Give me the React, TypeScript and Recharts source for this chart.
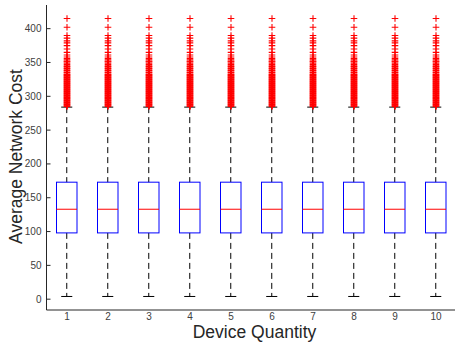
import React from "react";
import { ComposedChart, Bar, Scatter, XAxis, YAxis } from "recharts";

// box statistics, one entry per device quantity
const categories = ["1", "2", "3", "4", "5", "6", "7", "8", "9", "10"];
const lowerWhisker = [4, 4, 4, 4, 4, 4, 4, 4, 4, 4];
const q1 = [98, 98, 98, 98, 98, 98, 98, 98, 98, 98];
const medians = [133, 133, 133, 133, 133, 133, 133, 133, 133, 133];
const q3 = [173, 173, 173, 173, 173, 173, 173, 173, 173, 173];
const upperWhisker = [284, 284, 284, 284, 284, 284, 284, 284, 284, 284];

// outliers (same spread above every box)
const outlierValues = [
  415, 402, 390, 386, 382, 379, 375, 370, 365, 361, 358, 356, 354, 352, 351,
  349, 347, 345, 344, 342, 341, 339, 338, 336, 335, 333, 332, 331, 330, 329,
  328, 327, 326, 325, 324, 323, 322, 321, 320, 319, 318, 317, 316, 315, 314,
  313, 312, 311, 310, 309, 308, 307, 306, 305, 304, 303, 302, 301, 300, 299,
  298, 297, 296, 295, 294, 293, 292, 291, 290, 289, 288, 287, 286, 285,
];

const yTicks = [0, 50, 100, 150, 200, 250, 300, 350, 400];

const chartData = categories.map((cat, i) => {
  const row: Record<string, any> = {
    cat,
    lo: lowerWhisker[i],
    q1: q1[i],
    med: medians[i],
    q3: q3[i],
    hi: upperWhisker[i],
  };
  outlierValues.forEach((v, j) => {
    row[`o${j}`] = v;
  });
  return row;
});

const axisColor = "#262626";

const BoxShape = (props: any) => {
  const { x, y, width, height, payload } = props;
  if (height == null || !payload) return null;
  const { lo, q1, med, q3, hi } = payload;
  const k = height / (hi - lo);
  const toY = (v: number) => y + (hi - v) * k;
  const cx = x + width / 2;
  const cap = width * 0.27;
  return (
    <g>
      <line x1={cx} x2={cx} y1={toY(hi)} y2={toY(q3)} stroke="#000" strokeDasharray="6 4" />
      <line x1={cx} x2={cx} y1={toY(q1)} y2={toY(lo)} stroke="#000" strokeDasharray="6 4" />
      <line x1={cx - cap} x2={cx + cap} y1={toY(hi)} y2={toY(hi)} stroke="#000" />
      <line x1={cx - cap} x2={cx + cap} y1={toY(lo)} y2={toY(lo)} stroke="#000" />
      <rect
        x={x}
        y={toY(q3)}
        width={width}
        height={(q3 - q1) * k}
        fill="none"
        stroke="#0000FF"
      />
      <line x1={x} x2={x + width} y1={toY(med)} y2={toY(med)} stroke="#FF0000" />
    </g>
  );
};

const PlusShape = (props: any) => {
  const { cx, cy } = props;
  if (cx == null || cy == null) return null;
  return (
    <path
      d={`M${cx - 3.3},${cy}h6.6M${cx},${cy - 3.3}v6.6`}
      stroke="#FF0000"
      strokeWidth={1.1}
      fill="none"
    />
  );
};

const YLabel = (props: any) => {
  const { viewBox } = props;
  const cy = viewBox.y + viewBox.height / 2 - 1;
  return (
    <text
      x={21.5}
      y={cy}
      transform={`rotate(-90, 21.5, ${cy})`}
      textAnchor="middle"
      fontSize={17.5}
      fill={axisColor}
      fontFamily="Liberation Sans, Arial, sans-serif"
    >
      Average Network Cost
    </text>
  );
};

const XLabel = (props: any) => {
  const { viewBox } = props;
  return (
    <text
      x={viewBox.x + viewBox.width / 2 + 3}
      y={338}
      textAnchor="middle"
      fontSize={17.5}
      fill={axisColor}
      fontFamily="Liberation Sans, Arial, sans-serif"
    >
      Device Quantity
    </text>
  );
};

const tickStyle = {
  fontSize: 10,
  fill: "#404040",
  fontFamily: "Liberation Sans, Arial, sans-serif",
};

export default function App() {
  return (
    <div
      style={{
        position: "absolute",
        left: 0,
        top: 0,
        width: 455,
        height: 347,
        overflow: "hidden",
        background: "#fff",
      }}
    >
      <ComposedChart
        width={460}
        height={347}
        data={chartData}
        margin={{ top: 5, right: 3.5, left: 0.5, bottom: 0 }}
      >
        <XAxis
          dataKey="cat"
          height={37}
          tickLine={false}
          tickSize={0}
          tickMargin={3}
          tick={tickStyle}
          axisLine={{ stroke: axisColor }}
          interval={0}
          label={<XLabel />}
        />
        <XAxis
          xAxisId="top"
          dataKey="cat"
          orientation="top"
          height={0}
          tick={false}
          tickLine={false}
          axisLine={{ stroke: "#555" }}
        />
        <YAxis
          type="number"
          domain={[-16, 435]}
          ticks={yTicks}
          allowDataOverflow
          width={46}
          tickSize={-4}
          tickMargin={9}
          tick={tickStyle}
          tickLine={{ stroke: axisColor }}
          axisLine={{ stroke: axisColor }}
          label={<YLabel />}
        />
        <YAxis
          yAxisId="r"
          orientation="right"
          type="number"
          domain={[-16, 435]}
          ticks={yTicks}
          allowDataOverflow
          width={0}
          tickSize={-4}
          tick={false}
          tickLine={{ stroke: "#777" }}
          axisLine={{ stroke: "#555" }}
        />
        <Bar
          dataKey={(d: any) => [d.lo, d.hi]}
          barSize={20.5}
          shape={<BoxShape />}
          isAnimationActive={false}
        />
        {outlierValues.map((_, j) => (
          <Scatter
            key={j}
            dataKey={`o${j}`}
            shape={<PlusShape />}
            isAnimationActive={false}
          />
        ))}
      </ComposedChart>
    </div>
  );
}
